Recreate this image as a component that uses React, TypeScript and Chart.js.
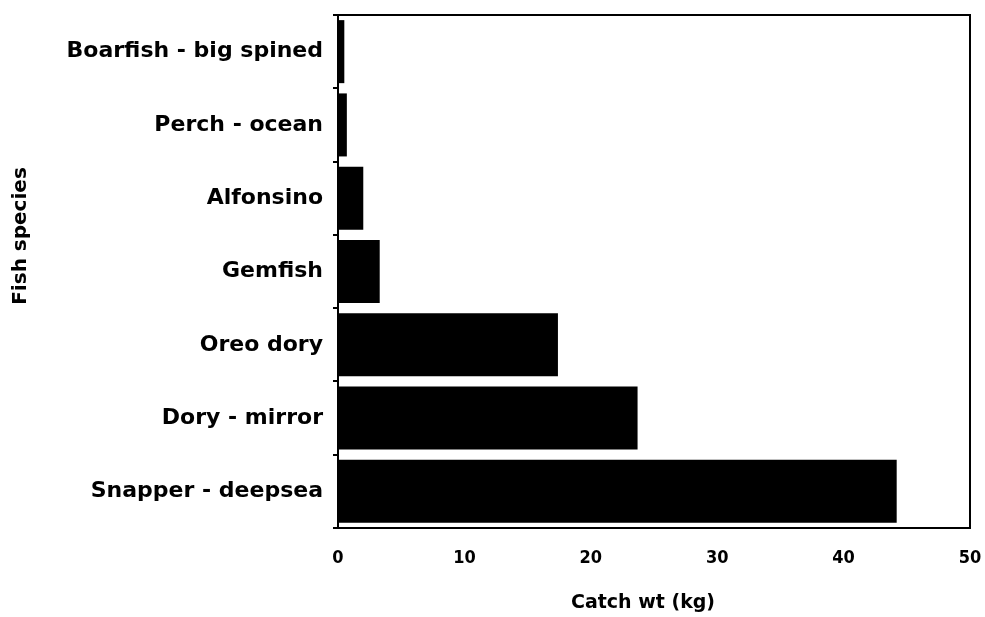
import React, { useEffect, useRef } from "react";
import { Chart, registerables } from "chart.js";

Chart.register(...registerables);

const categories = [
  "Boarfish - big spined",
  "Perch - ocean",
  "Alfonsino",
  "Gemfish",
  "Oreo dory",
  "Dory - mirror",
  "Snapper - deepsea",
];
const catchWt = [0.5, 0.7, 2.0, 3.3, 17.4, 23.7, 44.2];
const xTicks = [0, 10, 20, 30, 40, 50];
const yTitle = "Fish species";
const xTitle = "Catch wt (kg)";

const frame = {
  id: "frame",
  afterDatasetsDraw(chart: any) {
    const { ctx, chartArea: a } = chart;
    ctx.save();
    ctx.strokeStyle = "#000";
    ctx.lineWidth = 2;
    ctx.strokeRect(a.left, a.top, a.right - a.left, a.bottom - a.top);
    ctx.fillStyle = "#000";
    ctx.font = "bold 19px 'DejaVu Sans'";
    ctx.textAlign = "center";
    ctx.textBaseline = "middle";
    ctx.fillText(xTitle, 643, 603);
    ctx.font = "bold 20px 'DejaVu Sans'";
    ctx.translate(21, 236);
    ctx.rotate(-Math.PI / 2);
    ctx.fillText(yTitle, 0, 0);
    ctx.restore();
  },
};

export default function App() {
  const ref = useRef<HTMLCanvasElement>(null);
  useEffect(() => {
    document.body.style.margin = "0";
    const c = new Chart(ref.current!, {
      type: "bar",
      data: {
        labels: categories,
        datasets: [
          {
            data: catchWt,
            backgroundColor: "#000",
            borderWidth: 0,
            barPercentage: 0.86,
            categoryPercentage: 1,
          },
        ],
      },
      options: {
        indexAxis: "y",
        animation: false,
        responsive: false,
        layout: { padding: { top: 15, right: 15, left: 0, bottom: 0 } },
        plugins: { legend: { display: false }, tooltip: { enabled: false } },
        scales: {
          x: {
            min: 0,
            max: 50,
            afterBuildTicks: (s: any) => {
              s.ticks = xTicks.map((v) => ({ value: v }));
            },
            grid: { display: false, drawTicks: false },
            border: { display: true, color: "#000", width: 2 },
            ticks: {
              color: "#000",
              padding: 20,
              maxRotation: 0,
              font: { family: "'DejaVu Sans Condensed', 'DejaVu Sans'", size: 18, weight: "bold" },
            },
            afterFit: (s: any) => {
              s.height = 89;
              s.paddingLeft = 0;
              s.paddingRight = 0;
            },
          },
          y: {
            grid: {
              display: true,
              offset: true,
              drawOnChartArea: false,
              drawTicks: true,
              tickLength: 5,
              color: "#000",
              lineWidth: 2,
            },
            border: { display: true, color: "#000", width: 2 },
            ticks: {
              color: "#000",
              padding: 10,
              font: { family: "'DejaVu Sans'", size: 22, weight: "bold" },
            },
            afterFit: (s: any) => {
              s.width = 338;
              s.paddingTop = 0;
              s.paddingBottom = 0;
            },
          },
        },
      },
      plugins: [frame],
    } as any);
    return () => c.destroy();
  }, []);
  return (
    <div style={{ width: 985, height: 617, background: "#fff" }}>
      <canvas ref={ref} width={985} height={617} style={{ display: "block" }} />
    </div>
  );
}
